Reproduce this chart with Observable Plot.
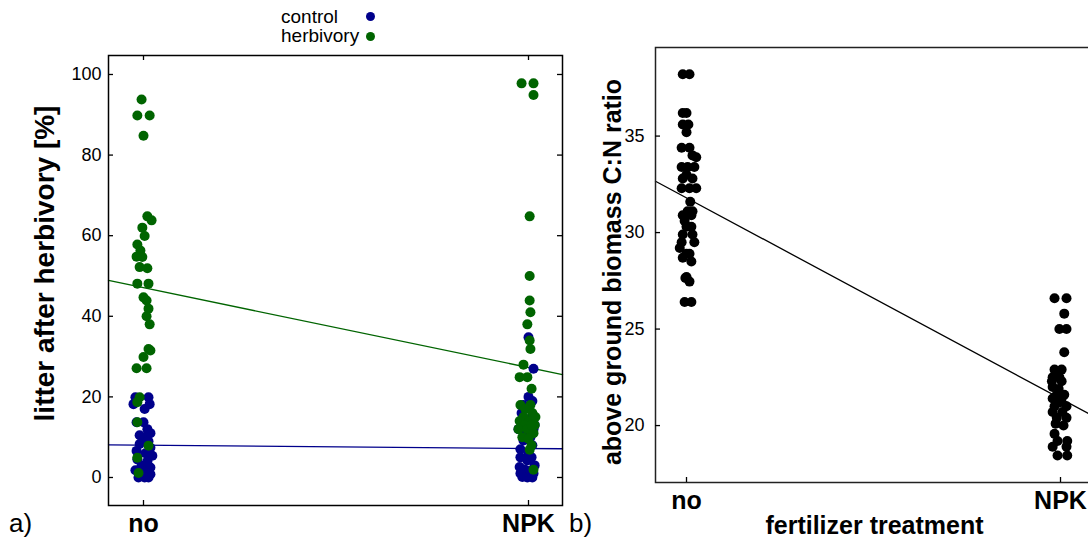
<!DOCTYPE html>
<html>
<head>
<meta charset="utf-8">
<script src="https://cdn.jsdelivr.net/npm/d3@7"></script>
<script src="https://cdn.jsdelivr.net/npm/@observablehq/plot@0.6"></script>
<style>
  body { margin: 0; background: #fff; font-family: "Liberation Sans", Arial, sans-serif; }
  #wrap { position: relative; width: 1088px; height: 544px; overflow: hidden; background: #fff; }
  #left, #right { position: absolute; top: 0; }
  #left { left: 0; width: 580px; height: 544px; }
  #right { left: 580px; width: 530px; height: 544px; }
  #left svg, #right svg { max-width: none !important; }
  .panel-tag { position: absolute; font-size: 26px; line-height: 26px; color: #000; }
  .leg { position: absolute; font-size: 19px; line-height: 15px; color: #000; white-space: nowrap; }
  .legdot { position: absolute; width: 9px; height: 9px; border-radius: 50%; }
</style>
</head>
<body>
<div id="wrap">
  <div id="left"></div>
  <div id="right"></div>
  <div id="legend"></div>
  <div class="panel-tag" style="left:9px;top:510px;">a)</div>
  <div class="panel-tag" style="left:569px;top:510px;">b)</div>
</div>
<script>
// ---------- data ----------
const xCats = ["no", "NPK"];
const seriesNames = ["control", "herbivory"];
const seriesColors = ["#00008b", "#006400"];
const yTicksLitter = [0, 20, 40, 60, 80, 100];
const yTicksCN = [20, 25, 30, 35];
const yTitleLitter = "litter after herbivory [%]";
const yTitleCN = "above ground biomass C:N ratio";
const xTitleCN = "fertilizer treatment";

// litter after herbivory [%]: [value, jitter (in category units)]
const controlNo = [[19.9,-.021],[19.9,.013],[18.2,-.026],[18.2,.016],[17,.003],[13.7,-.018],[13.7,.000],[12,.010],[9.9,.000],[9,.013],[8.3,-.010],[7.4,.018],[6.6,-.018],[6,.005],[5.4,.023],[4.5,-.016],[4,.010],[3.3,.010],[3,-.005],[2.5,.018],[1.8,-.021],[1.6,-.003],[1,.010],[0.8,.018],[0.4,-.008],[0,.013],[0,-.013],[0,.003],[10.5,-.010],[11,.018]];
const controlNPK = [[34.8,.000],[27,.013],[20,.000],[19,.010],[18,-.013],[16,-.018],[15,.008],[14,-.005],[13,.016],[12,-.026],[12,.013],[11,-.010],[10,.005],[9.2,-.013],[8,.010],[7,-.021],[6,.000],[5,-.021],[5,.008],[4.2,-.003],[2.6,-.023],[3,.016],[2,-.010],[1.7,.005],[1,.013],[1,-.021],[0.1,-.016],[0,.010],[0,-.003]];
const herbivoryNo = [[93.8,-.005],[89.8,-.016],[89.8,.016],[84.8,.000],[64.8,.010],[63.8,.021],[62,-.003],[59.9,.003],[57.8,-.016],[56.3,-.008],[54.8,-.018],[54.7,-.003],[52.2,-.010],[51.9,.010],[48.1,-.016],[48.1,.013],[44.7,.000],[43.9,.008],[41.9,.013],[40,.008],[38,.016],[31.9,.013],[31.5,.018],[29.9,.000],[27.1,-.018],[27.1,.008],[19.9,-.010],[18.7,-.016],[13.7,-.016],[7.9,.013],[4.9,-.016],[1.1,-.013]];
const herbivoryNPK = [[97.8,-.018],[97.8,.013],[94.9,.013],[64.8,.003],[50,.003],[43.9,.003],[41,.005],[38,-.003],[34,.003],[31.9,.005],[28,-.013],[24.9,-.023],[24.9,-.003],[22,.008],[18,-.021],[18,.005],[17,-.008],[16,.010],[15,-.013],[14,-.023],[14,.003],[13,.016],[13,-.010],[12,-.026],[12,-.003],[11,.013],[10,-.016],[9.6,.000],[8,.008],[6.9,.003],[1.9,.013],[13,.008],[15,.018]];
// fitted regression values at "no" and "NPK"
const fitControl = [8.0, 7.2];
const fitHerbivory = [47.1, 27.3];

// above ground biomass C:N ratio: [value, jitter]
const cnNo = [[38.2,-.010],[38.2,.008],[36.2,-.010],[36.2,.000],[35.6,-.010],[35.6,.005],[35.2,.000],[34.4,-.013],[34.4,.008],[34.0,.016],[33.9,.026],[33.4,-.013],[33.4,.003],[33.4,.021],[32.8,-.010],[32.8,.016],[32.3,-.013],[32.3,.008],[32.3,.026],[31.1,.003],[31.1,.016],[30.9,-.010],[30.9,.013],[30.3,.000],[30.3,.013],[29.9,-.010],[29.9,.016],[29.5,-.013],[29.5,.021],[29.2,-.018],[28.9,.000],[28.9,.008],[28.5,.013],[27.7,.000],[27.65,-.003],[27.46,.008],[26.4,-.005],[26.4,.013],[30.6,-.005],[31.6,.010],[33.0,.000],[28.7,-.010]];
const cnNPK = [[26.6,-.016],[26.6,.016],[25.8,.010],[25.0,-.003],[25.0,.016],[23.8,.010],[22.9,-.016],[22.9,.003],[22.5,-.021],[22.5,-.003],[22.3,-.023],[22.3,.003],[22.0,-.021],[21.9,-.005],[21.6,-.010],[21.6,.010],[21.4,-.021],[21.4,.003],[21.2,-.003],[21.0,-.016],[21.0,.016],[20.7,-.021],[20.7,.005],[20.4,-.010],[20.4,.016],[20.1,-.013],[20.0,.008],[19.57,-.016],[19.2,-.008],[19.2,.018],[18.9,-.021],[18.9,.016],[18.45,-.008],[18.45,.018]];
const fitCN = [31.8, 21.4];

// ---------- helpers ----------
const toPts = (arr, cat, group) => arr.map(([v, j]) => ({x: cat + j, y: v, group}));
const fitLine = (fit, dom, group) => dom.map(x => ({x, y: fit[0] + (fit[1] - fit[0]) * x, group}));
const font = "'Liberation Sans', Arial, sans-serif";

// ---------- left panel ----------
{
  const W = 580, H = 544, mL = 108, mR = 18, mT = 55, mB = 39;
  const fw = W - mL - mR, fh = H - mT - mB;
  const xDom = [-0.0909, 1.0883];
  const litter = [
    ...toPts(controlNo, 0, "control"), ...toPts(controlNPK, 1, "control"),
    ...toPts(herbivoryNo, 0, "herbivory"), ...toPts(herbivoryNPK, 1, "herbivory")
  ];
  const lines = [...fitLine(fitControl, xDom, "control"), ...fitLine(fitHerbivory, xDom, "herbivory")];
  const plot = Plot.plot({
    width: W, height: H, marginLeft: mL, marginRight: mR, marginTop: mT, marginBottom: mB,
    style: {fontFamily: font, background: "transparent", color: "#000"},
    x: {domain: xDom, axis: null},
    y: {domain: [-6.95, 104.71], axis: null},
    color: {domain: seriesNames, range: seriesColors},
    marks: [
      Plot.line(lines, {x: "x", y: "y", z: "group", stroke: "group", strokeWidth: 1.3}),
      Plot.dot(litter, {x: "x", y: "y", fill: "group", r: 5}),
      Plot.frame({stroke: "#000", strokeWidth: 1.5}),
      Plot.tickY(yTicksLitter, {stroke: "#000", strokeWidth: 1.3, insetRight: fw - 5}),
      Plot.tickY(yTicksLitter, {stroke: "#000", strokeWidth: 1.3, insetLeft: fw - 5}),
      Plot.tickX([0, 1], {stroke: "#000", strokeWidth: 1.3, insetTop: fh - 5}),
      Plot.tickX([0, 1], {stroke: "#000", strokeWidth: 1.3, insetBottom: fh - 5}),
      Plot.axisY(yTicksLitter, {tickSize: 0, tickPadding: 7, fontSize: 18, label: null}),
      Plot.axisX([0, 1], {tickSize: 0, tickPadding: 9, tickFormat: i => xCats[i], fontSize: 25, fontWeight: "bold", label: null}),
      Plot.text([yTitleLitter], {frameAnchor: "left", textAnchor: "middle", lineAnchor: "middle", rotate: -90, dx: -63, dy: -17, fontSize: 28, fontWeight: "bold"})
    ]
  });
  document.getElementById("left").appendChild(plot);
}

// ---------- right panel ----------
{
  const W = 530, H = 544, mL = 75, mR = 17, mT = 47, mB = 62;
  const fw = W - mL - mR, fh = H - mT - mB;
  const xDom = [-0.0829, 1.0882];
  const cn = [...toPts(cnNo, 0, "cn"), ...toPts(cnNPK, 1, "cn")];
  const line = fitLine(fitCN, xDom, "cn");
  const plot = Plot.plot({
    width: W, height: H, marginLeft: mL, marginRight: mR, marginTop: mT, marginBottom: mB,
    style: {fontFamily: font, background: "transparent", color: "#000"},
    x: {domain: xDom, axis: null},
    y: {domain: [17.05, 39.59], axis: null},
    marks: [
      Plot.line(line, {x: "x", y: "y", stroke: "#000", strokeWidth: 1.3}),
      Plot.dot(cn, {x: "x", y: "y", fill: "#000", r: 5}),
      Plot.frame({stroke: "#222", strokeWidth: 1.5}),
      Plot.tickY(yTicksCN, {stroke: "#000", strokeWidth: 1.3, insetRight: fw - 5}),
      Plot.tickX([0, 1], {stroke: "#000", strokeWidth: 1.3, insetTop: fh - 5}),
      Plot.axisY(yTicksCN, {tickSize: 0, tickPadding: 11, fontSize: 18, label: null}),
      Plot.axisX([0, 1], {tickSize: 0, tickPadding: 9, tickFormat: i => xCats[i], fontSize: 25, fontWeight: "bold", label: null}),
      Plot.text([yTitleCN], {frameAnchor: "left", textAnchor: "middle", lineAnchor: "middle", rotate: -90, dx: -43, dy: 7, fontSize: 25, fontWeight: "bold"}),
      Plot.text([xTitleCN], {frameAnchor: "bottom", textAnchor: "middle", lineAnchor: "bottom", dy: 51, fontSize: 25, fontWeight: "bold"})
    ]
  });
  document.getElementById("right").appendChild(plot);
}

// ---------- legend ----------
{
  const leg = document.getElementById("legend");
  seriesNames.forEach((name, i) => {
    const t = document.createElement("div");
    t.className = "leg";
    t.style.left = "281px";
    t.style.top = (9 + i * 19) + "px";
    t.textContent = name;
    leg.appendChild(t);
    const d = document.createElement("div");
    d.className = "legdot";
    d.style.left = "366px";
    d.style.top = (12 + i * 20) + "px";
    d.style.background = seriesColors[i];
    leg.appendChild(d);
  });
}
</script>
</body>
</html>
